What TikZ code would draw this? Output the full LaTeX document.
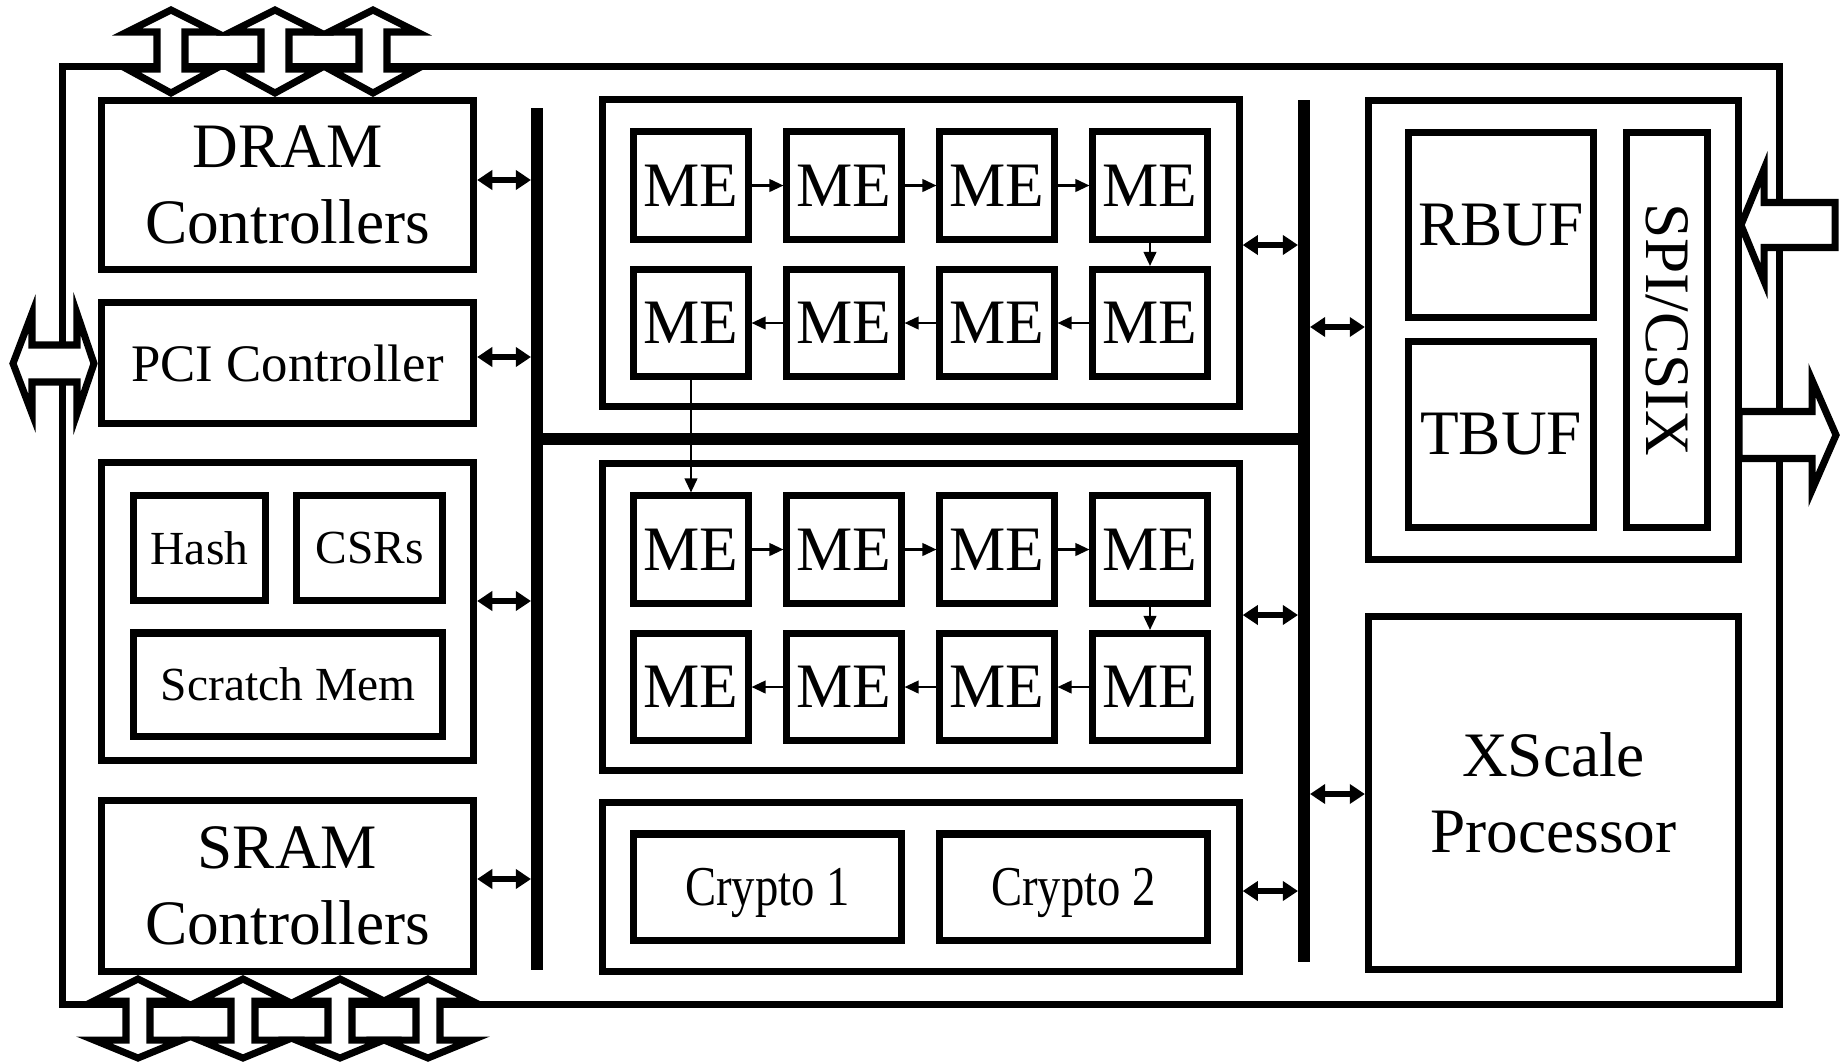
\documentclass[tikz,border=0pt]{standalone}
\usepackage{fontspec}
\setmainfont{Liberation Serif}
\usetikzlibrary{arrows.meta}

\tikzset{
  blk/.style={draw, line width=2pt, inner sep=0pt, align=center},
  bigtxt/.style={font=\fontsize{18}{21.6}\selectfont},
  midtxt/.style={font=\fontsize{15}{18}\selectfont},
  smalltxt/.style={font=\fontsize{13.5}{16}\selectfont},
  crtxt/.style={font=\fontsize{16}{19}\selectfont, text depth=0pt},
  mebox/.style={blk, bigtxt, minimum width=1.14cm, minimum height=1.07cm},
  bus/.style={fill=black, inner sep=0pt, outer sep=0pt},
  busarrow/.style={line width=1.6pt, {Triangle[length=4.3pt,width=5.4pt]}-{Triangle[length=4.3pt,width=5.4pt]}},
  mearrow/.style={line width=0.6pt, -{Triangle[length=4pt,width=3.6pt]}},
  ioarrow/.style={draw, fill=white, line width=2pt},
}

\begin{document}
\begin{tikzpicture}[x=0.01cm, y=-0.01cm]
  \useasboundingbox (0,0) rectangle (1848,1063);

  % chip outline
  \node[blk, minimum width=17.16cm, minimum height=9.37cm] (chip) at (921,535.5) {};

  % external ports
  \foreach \x in {171,275,373}
    \draw[ioarrow] (\x,10) -- ++(44,22) -- ++(-30,0) -- ++(0,37) -- ++(30,0) -- (\x,93)
      -- ++(-44,-24) -- ++(30,0) -- ++(0,-37) -- ++(-30,0) -- cycle;
  \foreach \x in {138,243,340,428}
    \draw[ioarrow] (\x,979) -- ++(44,22) -- ++(-32,0) -- ++(0,39) -- ++(32,0) -- (\x,1058)
      -- ++(-44,-18) -- ++(32,0) -- ++(0,-39) -- ++(-32,0) -- cycle;
  \draw[ioarrow] (13,363.5) -- (32,313.5) -- (32,345) -- (77,345) -- (77,313.5) -- (94,363.5)
    -- (77,413.5) -- (77,382) -- (32,382) -- (32,413.5) -- cycle;
  \draw[ioarrow] (1835,202.5) -- (1764,202.5) -- (1764,169) -- (1741,225) -- (1764,281)
    -- (1764,247.5) -- (1835,247.5) -- cycle;
  \draw[ioarrow] (1739,411.5) -- (1812,411.5) -- (1812,380) -- (1836,435) -- (1812,490)
    -- (1812,458.5) -- (1739,458.5) -- cycle;

  % left column
  \node[blk, bigtxt, minimum width=3.72cm, minimum height=1.69cm] (dram) at (287.5,185) {DRAM\\Controllers};
  \node[blk, midtxt, minimum width=3.72cm, minimum height=1.21cm] (pci) at (287.5,363) {PCI Controller};
  \node[blk, minimum width=3.72cm, minimum height=2.97cm] (misc) at (287.5,611.5) {};
  \node[blk, smalltxt, minimum width=1.31cm, minimum height=1.04cm] (hash) at (199.5,548) {Hash};
  \node[blk, smalltxt, minimum width=1.45cm, minimum height=1.04cm] (csr) at (369.5,548) {CSRs};
  \node[blk, smalltxt, minimum width=3.08cm, minimum height=1.03cm] (scratch) at (288,684.5) {Scratch Mem};
  \node[blk, bigtxt, minimum width=3.72cm, minimum height=1.70cm] (sram) at (287.5,886) {SRAM\\Controllers};

  % buses
  \node[bus, minimum width=0.12cm, minimum height=8.62cm] (lbus) at (537,539) {};
  \node[bus, minimum width=0.12cm, minimum height=8.62cm] (rbus) at (1304,531) {};
  \node[bus, minimum width=7.79cm, minimum height=0.12cm] (hbus) at (920.5,439) {};

  % microengine clusters
  \node[blk, minimum width=6.365cm, minimum height=3.065cm] (mea) at (920.75,253.25) {};
  \node[blk, minimum width=6.365cm, minimum height=3.06cm] (meb) at (920.75,617) {};
  \foreach \g/\gy in {a/100, b/464} {
    \foreach \c in {1,...,4} {
      \node[mebox] (m\g1\c) at ({691+153*(\c-1)}, {\gy+85.5}) {ME};
      \node[mebox] (m\g2\c) at ({691+153*(\c-1)}, {\gy+223}) {ME};
    }
    \foreach \c [evaluate=\c as \n using int(\c+1)] in {1,2,3} {
      \draw[mearrow] (m\g1\c) -- (m\g1\n);
      \draw[mearrow] (m\g2\n) -- (m\g2\c);
    }
    \draw[mearrow] (m\g14) -- (m\g24);
  }
  \draw[mearrow] (ma21) -- (mb11);

  % crypto units
  \node[blk, minimum width=6.365cm, minimum height=1.68cm] (crypto) at (920.75,887) {};
  \node[blk, crtxt, minimum width=2.67cm, minimum height=1.06cm] (cr1) at (767.5,887) {\scalebox{0.83}[1]{Crypto 1}};
  \node[blk, crtxt, minimum width=2.67cm, minimum height=1.06cm] (cr2) at (1073.5,887) {\scalebox{0.83}[1]{Crypto 2}};

  % right column
  \node[blk, minimum width=3.70cm, minimum height=4.59cm] (bufs) at (1553.5,330) {};
  \node[blk, bigtxt, minimum width=1.85cm, minimum height=1.85cm] (rbuf) at (1501,225) {RBUF};
  \node[blk, bigtxt, minimum width=1.85cm, minimum height=1.86cm] (tbuf) at (1501,434.5) {TBUF};
  \node[blk, bigtxt, rotate=-90, minimum width=3.95cm, minimum height=0.81cm] (spi) at (1667,330) {SPI/CSIX};
  \node[blk, bigtxt, minimum width=3.70cm, minimum height=3.53cm] (xscale) at (1553.5,793) {XScale\\Processor};

  % bus connections
  \draw[busarrow] (dram.east |- 0,180) -- (lbus.west |- 0,180);
  \draw[busarrow] (pci.east |- 0,357) -- (lbus.west |- 0,357);
  \draw[busarrow] (misc.east |- 0,601) -- (lbus.west |- 0,601);
  \draw[busarrow] (sram.east |- 0,879) -- (lbus.west |- 0,879);
  \draw[busarrow] (mea.east |- 0,245) -- (rbus.west |- 0,245);
  \draw[busarrow] (rbus.east |- 0,327) -- (bufs.west |- 0,327);
  \draw[busarrow] (meb.east |- 0,615) -- (rbus.west |- 0,615);
  \draw[busarrow] (rbus.east |- 0,794) -- (xscale.west |- 0,794);
  \draw[busarrow] (crypto.east |- 0,891) -- (rbus.west |- 0,891);
\end{tikzpicture}
\end{document}
